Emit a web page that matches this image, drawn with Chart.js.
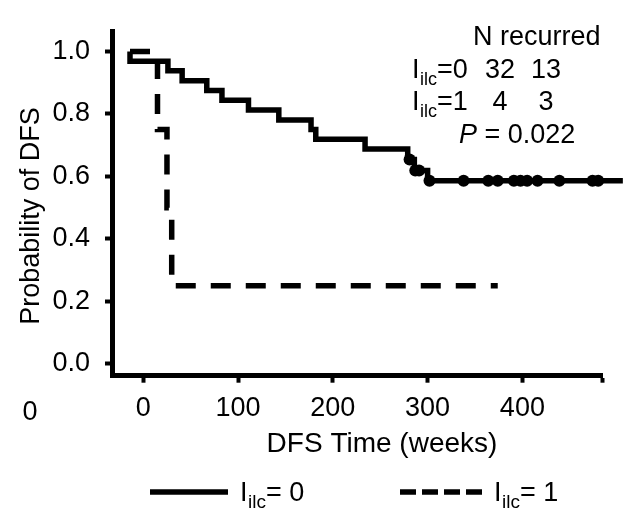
<!DOCTYPE html>
<html><head><meta charset="utf-8">
<script src="https://cdn.jsdelivr.net/npm/chart.js@4/dist/chart.umd.min.js"></script>
<style>html,body{margin:0;padding:0;background:#fff}</style>
</head><body>
<canvas id="c" width="640" height="519" style="width:640px;height:519px;display:block"></canvas>
<script>
const FONT = "'Liberation Sans', Arial, sans-serif";
const xTickValues = [0, 100, 200, 300, 400];
const xAxisStart = -33, xAxisEnd = 484;
const yTickValues = [0, 0.2, 0.4, 0.6, 0.8, 1.0];
const yAxisMin = -0.038, yAxisMax = 1.065;

// I_ilc = 0 (solid): time (weeks), survival, censored flag
const timesIlc0 = [-14, -14, 26, 41, 67, 83, 111, 143, 177, 182, 234, 279, 281, 286, 287, 291, 300, 302, 338, 364, 374, 391, 398, 405, 416, 439, 474, 480, 506];
const survIlc0  = [1.0, 0.969, 0.938, 0.906, 0.875, 0.844, 0.813, 0.781, 0.750, 0.719, 0.688, 0.654, 0.654, 0.619, 0.619, 0.619, 0.586, 0.586, 0.586, 0.586, 0.586, 0.586, 0.586, 0.586, 0.586, 0.586, 0.586, 0.586, 0.586];
const censIlc0  = [0, 0, 0, 0, 0, 0, 0, 0, 0, 0, 0, 0, 1, 0, 1, 1, 0, 1, 1, 1, 1, 1, 1, 1, 1, 1, 1, 1, 0];

// I_ilc = 1 (dashed)
const timesIlc1 = [-14, 15, 25, 30, 374];
const survIlc1  = [1.0, 0.75, 0.5, 0.25, 0.25];

const seriesNames = ['0', '1'];
const tableRows = [['0', '32', '13'], ['1', '4', '3']];
const pText = '0.022';

const pts = (t, s) => t.map((v, i) => ({x: v, y: s[i]}));

function drawSub(ctx, x, base, suffix, big, small, drop) {
  ctx.textAlign = 'left';
  ctx.font = `${big}px ${FONT}`;
  ctx.fillText('I', x, base);
  x += ctx.measureText('I').width + 0.5;
  ctx.font = `${small}px ${FONT}`;
  ctx.fillText('ilc', x, base + drop);
  x += ctx.measureText('ilc').width;
  ctx.font = `${big}px ${FONT}`;
  ctx.fillText(suffix, x, base);
}

const textPlugin = {
  id: 'texts',
  afterDraw(chart) {
    const ctx = chart.ctx;
    ctx.save();
    ctx.fillStyle = '#000';
    ctx.strokeStyle = '#000';
    ctx.textBaseline = 'alphabetic';
    // stray label at far left
    ctx.font = `27px ${FONT}`;
    ctx.textAlign = 'center';
    ctx.fillText('0', 30, 420);
    // axis titles
    ctx.font = `28px ${FONT}`;
    ctx.fillText('DFS Time (weeks)', 382, 452);
    ctx.font = `27px ${FONT}`;
    ctx.save();
    ctx.translate(39, 216);
    ctx.rotate(-Math.PI / 2);
    ctx.fillText('Probability of DFS', 0, 0);
    ctx.restore();
    // annotation table
    ctx.textAlign = 'left';
    ctx.fillText('N recurred', 473, 45);
    const bases = [77.5, 110];
    tableRows.forEach((r, i) => {
      drawSub(ctx, 412, bases[i], '=' + r[0], 27, 18, 7);
      ctx.font = `27px ${FONT}`;
      ctx.textAlign = 'center';
      ctx.fillText(r[1], 500, bases[i]);
      ctx.fillText(r[2], 546, bases[i]);
    });
    ctx.textAlign = 'left';
    ctx.font = `italic 27px ${FONT}`;
    ctx.fillText('P', 459, 143);
    let px = 459 + ctx.measureText('P').width;
    ctx.font = `27px ${FONT}`;
    ctx.fillText(' = ' + pText, px, 143);
    // legend
    ctx.lineWidth = 5.5;
    ctx.lineCap = 'butt';
    ctx.beginPath(); ctx.moveTo(150, 492); ctx.lineTo(228, 492); ctx.stroke();
    drawSub(ctx, 240, 501, '= ' + seriesNames[0], 27, 19, 7);
    ctx.setLineDash([16, 6]);
    ctx.beginPath(); ctx.moveTo(400, 492); ctx.lineTo(484, 492); ctx.stroke();
    ctx.setLineDash([]);
    drawSub(ctx, 494, 501, '= ' + seriesNames[1], 27, 19, 7);
    ctx.restore();
  }
};

new Chart(document.getElementById('c'), {
  type: 'line',
  data: {
    datasets: [
      {
        label: 'Iilc=0',
        data: pts(timesIlc0, survIlc0),
        stepped: 'before',
        borderColor: '#000',
        borderWidth: 5.5,
        borderJoinStyle: 'miter',
        fill: false,
        clip: false,
        pointRadius: c => censIlc0[c.dataIndex] ? 6 : 0,
        pointHoverRadius: c => censIlc0[c.dataIndex] ? 6 : 0,
        pointBackgroundColor: '#000',
        pointBorderWidth: 0
      },
      {
        label: 'Iilc=1',
        data: pts(timesIlc1, survIlc1),
        stepped: 'before',
        borderColor: '#000',
        borderWidth: 5.5,
        borderDash: [20, 15],
        fill: false,
        clip: false,
        pointRadius: 0,
        pointHoverRadius: 0
      }
    ]
  },
  options: {
    responsive: false,
    animation: false,
    devicePixelRatio: 1,
    events: [],
    layout: { padding: { top: 25, right: 38, left: 0, bottom: 0 } },
    plugins: { legend: { display: false }, tooltip: { enabled: false } },
    scales: {
      x: {
        type: 'linear',
        min: xAxisStart, max: xAxisEnd,
        afterBuildTicks: s => { s.ticks = xTickValues.concat([xAxisEnd]).map(v => ({value: v})); },
        afterFit: s => { s.height = 143.3; },
        ticks: {
          color: '#000', font: { family: FONT, size: 27 }, padding: 10, maxRotation: 0, autoSkip: false,
          callback: v => xTickValues.includes(v) ? String(v) : ''
        },
        grid: { display: true, drawOnChartArea: false, drawTicks: true, tickLength: 7, tickWidth: 4, tickColor: '#000', color: '#000' },
        border: { display: true, width: 5, color: '#000' }
      },
      y: {
        type: 'linear',
        min: yAxisMin, max: yAxisMax,
        afterBuildTicks: s => { s.ticks = yTickValues.map(v => ({value: v})); },
        afterFit: s => { s.width = 112; },
        ticks: {
          color: '#000', font: { family: FONT, size: 27 }, padding: 15,
          callback: v => v.toFixed(1)
        },
        grid: { display: true, drawOnChartArea: false, drawTicks: true, tickLength: 7, tickWidth: 4, tickColor: '#000', color: '#000' },
        border: { display: true, width: 5, color: '#000' }
      }
    }
  },
  plugins: [textPlugin]
});
</script>
</body></html>
